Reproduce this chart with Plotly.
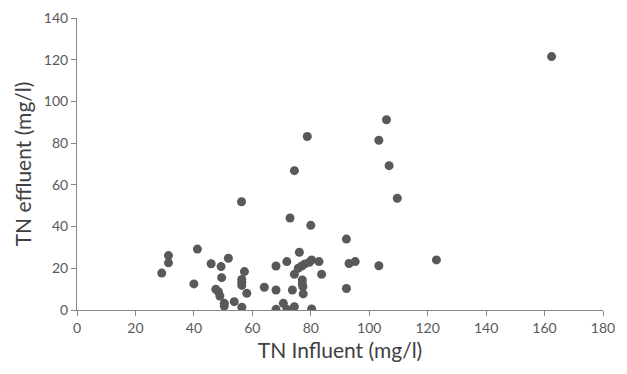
import plotly.graph_objects as go

tn_influent = [29.0, 31.3, 31.3, 40.0, 41.2, 45.9, 49.3, 51.8, 49.5, 47.5, 48.4, 48.9,
               50.4, 50.4, 53.8, 56.4, 57.3, 56.4, 56.4, 56.4, 58.1, 56.3, 64.1,
               76.1, 68.1, 71.8, 74.4, 75.7, 76.9, 78.0, 79.5, 80.3, 82.8, 83.7,
               77.1, 77.1, 77.3, 77.4, 68.1, 73.7, 68.1, 70.6, 71.8, 74.4, 80.3,
               72.9, 74.4, 78.8, 80.0, 92.2, 92.2, 93.1, 95.2, 103.3, 103.3,
               105.9, 106.8, 109.6, 123.0, 162.4]
tn_effluent = [17.7, 26.1, 22.6, 12.5, 29.2, 22.2, 20.8, 24.8, 15.5, 9.9, 8.8, 6.7,
               3.2, 1.9, 4.0, 1.3, 18.4, 14.6, 13.2, 11.8, 8.0, 51.9, 10.9,
               27.7, 21.1, 23.2, 17.1, 20.0, 21.1, 22.1, 22.9, 24.0, 23.2, 17.1,
               14.4, 12.5, 11.2, 7.7, 9.6, 9.6, 0.3, 3.2, 0.3, 1.6, 0.5,
               44.1, 66.8, 83.2, 40.6, 34.0, 10.3, 22.3, 23.2, 81.4, 21.2,
               91.2, 69.2, 53.6, 24.0, 121.5]

x_ticks = [0, 20, 40, 60, 80, 100, 120, 140, 160, 180]
y_ticks = [0, 20, 40, 60, 80, 100, 120, 140]

FONT = "Lato, Open Sans, sans-serif"

fig = go.Figure()
fig.add_trace(go.Scatter(
    x=tn_influent, y=tn_effluent, mode="markers",
    marker=dict(size=9, color="#595959", line=dict(width=0)),
    showlegend=False, hoverinfo="x+y"))

axis_common = dict(
    showgrid=False, zeroline=False, showline=True, linecolor="#868686", linewidth=1,
    ticks="outside", ticklen=5, tickcolor="#868686", automargin=False,
    tickfont=dict(family=FONT, size=14, color="#595959"),
)
fig.update_xaxes(range=[0, 180], tickvals=x_ticks, **axis_common,
                 title=dict(text="TN Influent (mg/l)", standoff=8,
                            font=dict(family=FONT, size=21, color="#404040")))
fig.update_yaxes(range=[0, 140], tickvals=y_ticks, **axis_common,
                 title=dict(text="TN effluent (mg/l)", standoff=6,
                            font=dict(family=FONT, size=21, color="#404040")))
fig.update_layout(
    width=627, height=374, plot_bgcolor="white", paper_bgcolor="white",
    margin=dict(l=77, r=24, t=18, b=64, autoexpand=False),
)
fig.write_html("out.html", config={"displayModeBar": False},
               post_script="document.body.style.margin='0';")
